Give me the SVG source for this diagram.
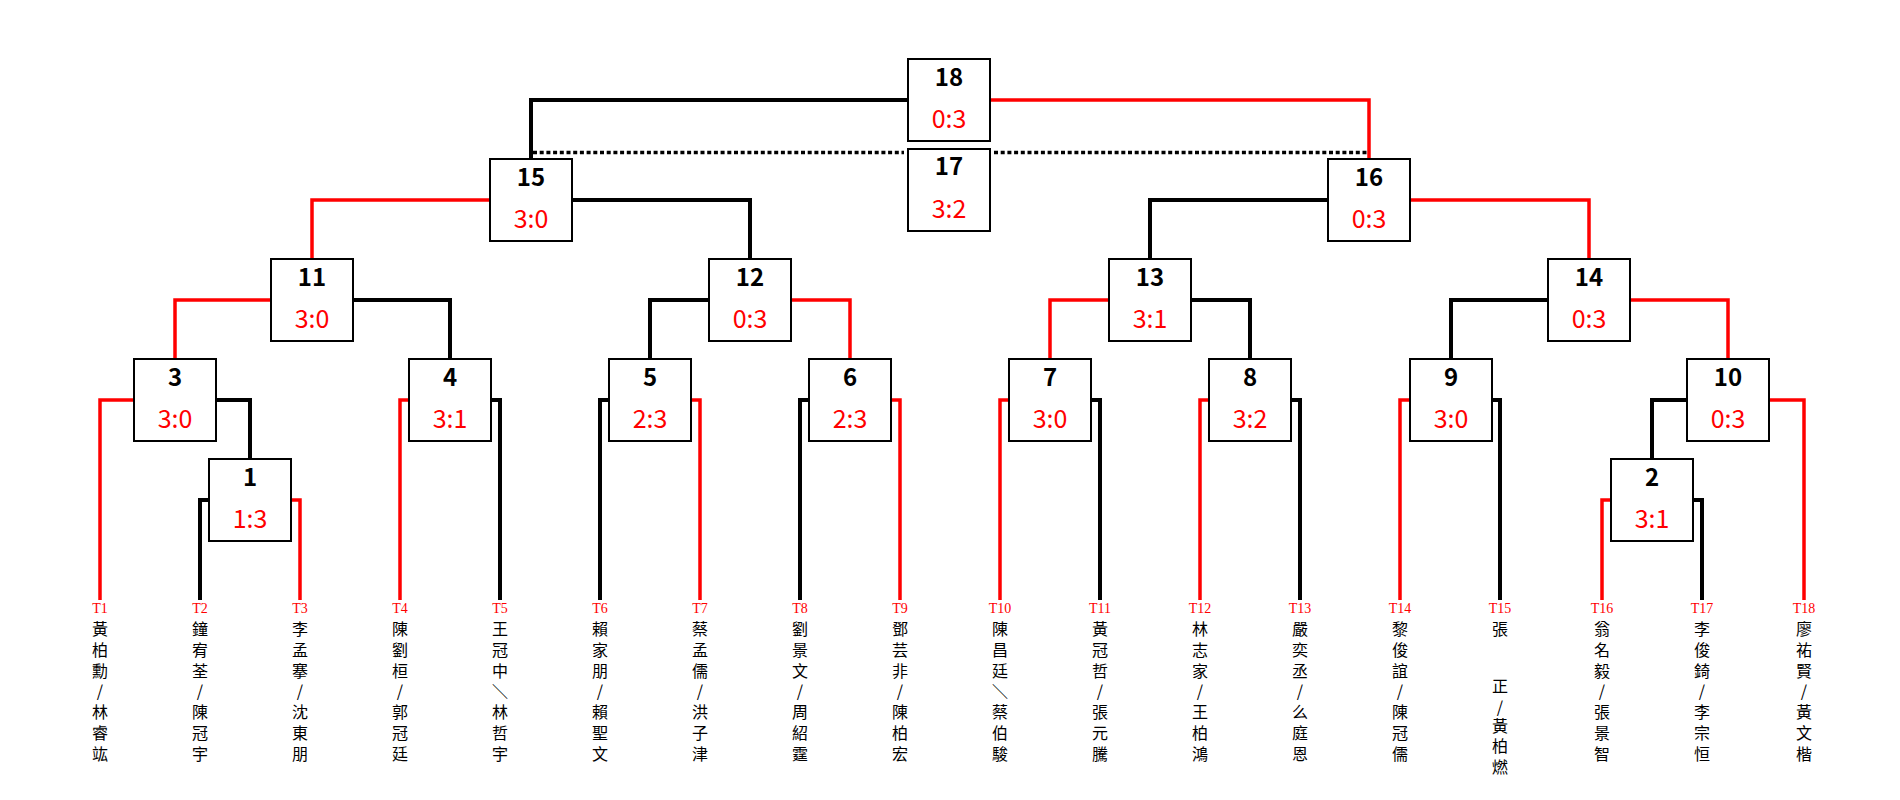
<svg xmlns="http://www.w3.org/2000/svg" width="1900" height="800" viewBox="0 0 1900 800">
<style>
.bk{fill:none;stroke:#000;stroke-width:4;stroke-linejoin:miter}
.rd{fill:none;stroke:#ff0000;stroke-width:3.5;stroke-linejoin:miter}
.dot{fill:none;stroke:#000;stroke-width:3.5;stroke-dasharray:4 2.7}
.box{fill:#fff;stroke:#000;stroke-width:2}
.num{font-family:"Noto Sans CJK TC","Noto Sans",sans-serif;font-size:24px;font-weight:bold;fill:#000;text-anchor:middle}
.sc{font-family:"Noto Sans CJK TC","Noto Sans",sans-serif;font-size:25px;fill:#ff0000;text-anchor:middle}
.tl{font-family:"Liberation Serif",serif;font-size:14px;fill:#ff0000;text-anchor:middle}
.nm{font-family:"Noto Sans CJK TC",sans-serif;font-size:16px;fill:#000;text-anchor:middle}
</style>
<rect width="1900" height="800" fill="#fff"/>
<g id="connectors">
<path class="dot" d="M533 152.5H904M994 152.5H1367"/>
<path class="bk" d="M949 100H531V159"/>
<path class="rd" d="M949 100H1369V159"/>
<path class="rd" d="M531 200H312V259"/>
<path class="bk" d="M531 200H750V259"/>
<path class="bk" d="M1369 200H1150V259"/>
<path class="rd" d="M1369 200H1589V259"/>
<path class="rd" d="M312 300H175V359"/>
<path class="bk" d="M312 300H450V359"/>
<path class="bk" d="M750 300H650V359"/>
<path class="rd" d="M750 300H850V359"/>
<path class="rd" d="M1150 300H1050V359"/>
<path class="bk" d="M1150 300H1250V359"/>
<path class="bk" d="M1589 300H1451V359"/>
<path class="rd" d="M1589 300H1728V359"/>
<path class="rd" d="M175 400H100V600"/>
<path class="bk" d="M175 400H250V459"/>
<path class="rd" d="M450 400H400V600"/>
<path class="bk" d="M450 400H500V600"/>
<path class="bk" d="M650 400H600V600"/>
<path class="rd" d="M650 400H700V600"/>
<path class="bk" d="M850 400H800V600"/>
<path class="rd" d="M850 400H900V600"/>
<path class="rd" d="M1050 400H1000V600"/>
<path class="bk" d="M1050 400H1100V600"/>
<path class="rd" d="M1250 400H1200V600"/>
<path class="bk" d="M1250 400H1300V600"/>
<path class="rd" d="M1451 400H1400V600"/>
<path class="bk" d="M1451 400H1500V600"/>
<path class="bk" d="M1728 400H1652V459"/>
<path class="rd" d="M1728 400H1804V600"/>
<path class="bk" d="M250 500H200V600"/>
<path class="rd" d="M250 500H300V600"/>
<path class="rd" d="M1652 500H1602V600"/>
<path class="bk" d="M1652 500H1702V600"/>
</g>
<g id="m18"><rect class="box" x="908" y="59" width="82" height="82"/><text class="num" x="949" y="86">18</text><text class="sc" x="949" y="128">0:3</text></g>
<g id="m17"><rect class="box" x="908" y="149" width="82" height="82"/><text class="num" x="949" y="175">17</text><text class="sc" x="949" y="218">3:2</text></g>
<g id="m15"><rect class="box" x="490" y="159" width="82" height="82"/><text class="num" x="531" y="186">15</text><text class="sc" x="531" y="228">3:0</text></g>
<g id="m16"><rect class="box" x="1328" y="159" width="82" height="82"/><text class="num" x="1369" y="186">16</text><text class="sc" x="1369" y="228">0:3</text></g>
<g id="m11"><rect class="box" x="271" y="259" width="82" height="82"/><text class="num" x="312" y="286">11</text><text class="sc" x="312" y="328">3:0</text></g>
<g id="m12"><rect class="box" x="709" y="259" width="82" height="82"/><text class="num" x="750" y="286">12</text><text class="sc" x="750" y="328">0:3</text></g>
<g id="m13"><rect class="box" x="1109" y="259" width="82" height="82"/><text class="num" x="1150" y="286">13</text><text class="sc" x="1150" y="328">3:1</text></g>
<g id="m14"><rect class="box" x="1548" y="259" width="82" height="82"/><text class="num" x="1589" y="286">14</text><text class="sc" x="1589" y="328">0:3</text></g>
<g id="m3"><rect class="box" x="134" y="359" width="82" height="82"/><text class="num" x="175" y="386">3</text><text class="sc" x="175" y="428">3:0</text></g>
<g id="m4"><rect class="box" x="409" y="359" width="82" height="82"/><text class="num" x="450" y="386">4</text><text class="sc" x="450" y="428">3:1</text></g>
<g id="m5"><rect class="box" x="609" y="359" width="82" height="82"/><text class="num" x="650" y="386">5</text><text class="sc" x="650" y="428">2:3</text></g>
<g id="m6"><rect class="box" x="809" y="359" width="82" height="82"/><text class="num" x="850" y="386">6</text><text class="sc" x="850" y="428">2:3</text></g>
<g id="m7"><rect class="box" x="1009" y="359" width="82" height="82"/><text class="num" x="1050" y="386">7</text><text class="sc" x="1050" y="428">3:0</text></g>
<g id="m8"><rect class="box" x="1209" y="359" width="82" height="82"/><text class="num" x="1250" y="386">8</text><text class="sc" x="1250" y="428">3:2</text></g>
<g id="m9"><rect class="box" x="1410" y="359" width="82" height="82"/><text class="num" x="1451" y="386">9</text><text class="sc" x="1451" y="428">3:0</text></g>
<g id="m10"><rect class="box" x="1687" y="359" width="82" height="82"/><text class="num" x="1728" y="386">10</text><text class="sc" x="1728" y="428">0:3</text></g>
<g id="m1"><rect class="box" x="209" y="459" width="82" height="82"/><text class="num" x="250" y="486">1</text><text class="sc" x="250" y="528">1:3</text></g>
<g id="m2"><rect class="box" x="1611" y="459" width="82" height="82"/><text class="num" x="1652" y="486">2</text><text class="sc" x="1652" y="528">3:1</text></g>
<g id="t1"><text class="tl" x="100" y="613">T1</text><text class="nm" x="100"><tspan x="100" y="635">黃</tspan><tspan x="100" y="655.75">柏</tspan><tspan x="100" y="676.5">勳</tspan><tspan x="100" y="697.25">/</tspan><tspan x="100" y="718">林</tspan><tspan x="100" y="738.75">睿</tspan><tspan x="100" y="759.5">竑</tspan></text></g>
<g id="t2"><text class="tl" x="200" y="613">T2</text><text class="nm" x="200"><tspan x="200" y="635">鐘</tspan><tspan x="200" y="655.75">宥</tspan><tspan x="200" y="676.5">荃</tspan><tspan x="200" y="697.25">/</tspan><tspan x="200" y="718">陳</tspan><tspan x="200" y="738.75">冠</tspan><tspan x="200" y="759.5">宇</tspan></text></g>
<g id="t3"><text class="tl" x="300" y="613">T3</text><text class="nm" x="300"><tspan x="300" y="635">李</tspan><tspan x="300" y="655.75">孟</tspan><tspan x="300" y="676.5">搴</tspan><tspan x="300" y="697.25">/</tspan><tspan x="300" y="718">沈</tspan><tspan x="300" y="738.75">東</tspan><tspan x="300" y="759.5">朋</tspan></text></g>
<g id="t4"><text class="tl" x="400" y="613">T4</text><text class="nm" x="400"><tspan x="400" y="635">陳</tspan><tspan x="400" y="655.75">劉</tspan><tspan x="400" y="676.5">桓</tspan><tspan x="400" y="697.25">/</tspan><tspan x="400" y="718">郭</tspan><tspan x="400" y="738.75">冠</tspan><tspan x="400" y="759.5">廷</tspan></text></g>
<g id="t5"><text class="tl" x="500" y="613">T5</text><text class="nm" x="500"><tspan x="500" y="635">王</tspan><tspan x="500" y="655.75">冠</tspan><tspan x="500" y="676.5">中</tspan><tspan x="500" y="697.25">＼</tspan><tspan x="500" y="718">林</tspan><tspan x="500" y="738.75">哲</tspan><tspan x="500" y="759.5">宇</tspan></text></g>
<g id="t6"><text class="tl" x="600" y="613">T6</text><text class="nm" x="600"><tspan x="600" y="635">賴</tspan><tspan x="600" y="655.75">家</tspan><tspan x="600" y="676.5">朋</tspan><tspan x="600" y="697.25">/</tspan><tspan x="600" y="718">賴</tspan><tspan x="600" y="738.75">聖</tspan><tspan x="600" y="759.5">文</tspan></text></g>
<g id="t7"><text class="tl" x="700" y="613">T7</text><text class="nm" x="700"><tspan x="700" y="635">蔡</tspan><tspan x="700" y="655.75">孟</tspan><tspan x="700" y="676.5">儒</tspan><tspan x="700" y="697.25">/</tspan><tspan x="700" y="718">洪</tspan><tspan x="700" y="738.75">子</tspan><tspan x="700" y="759.5">津</tspan></text></g>
<g id="t8"><text class="tl" x="800" y="613">T8</text><text class="nm" x="800"><tspan x="800" y="635">劉</tspan><tspan x="800" y="655.75">景</tspan><tspan x="800" y="676.5">文</tspan><tspan x="800" y="697.25">/</tspan><tspan x="800" y="718">周</tspan><tspan x="800" y="738.75">紹</tspan><tspan x="800" y="759.5">霆</tspan></text></g>
<g id="t9"><text class="tl" x="900" y="613">T9</text><text class="nm" x="900"><tspan x="900" y="635">鄧</tspan><tspan x="900" y="655.75">芸</tspan><tspan x="900" y="676.5">非</tspan><tspan x="900" y="697.25">/</tspan><tspan x="900" y="718">陳</tspan><tspan x="900" y="738.75">柏</tspan><tspan x="900" y="759.5">宏</tspan></text></g>
<g id="t10"><text class="tl" x="1000" y="613">T10</text><text class="nm" x="1000"><tspan x="1000" y="635">陳</tspan><tspan x="1000" y="655.75">昌</tspan><tspan x="1000" y="676.5">廷</tspan><tspan x="1000" y="697.25">＼</tspan><tspan x="1000" y="718">蔡</tspan><tspan x="1000" y="738.75">伯</tspan><tspan x="1000" y="759.5">駿</tspan></text></g>
<g id="t11"><text class="tl" x="1100" y="613">T11</text><text class="nm" x="1100"><tspan x="1100" y="635">黃</tspan><tspan x="1100" y="655.75">冠</tspan><tspan x="1100" y="676.5">哲</tspan><tspan x="1100" y="697.25">/</tspan><tspan x="1100" y="718">張</tspan><tspan x="1100" y="738.75">元</tspan><tspan x="1100" y="759.5">騰</tspan></text></g>
<g id="t12"><text class="tl" x="1200" y="613">T12</text><text class="nm" x="1200"><tspan x="1200" y="635">林</tspan><tspan x="1200" y="655.75">志</tspan><tspan x="1200" y="676.5">家</tspan><tspan x="1200" y="697.25">/</tspan><tspan x="1200" y="718">王</tspan><tspan x="1200" y="738.75">柏</tspan><tspan x="1200" y="759.5">鴻</tspan></text></g>
<g id="t13"><text class="tl" x="1300" y="613">T13</text><text class="nm" x="1300"><tspan x="1300" y="635">嚴</tspan><tspan x="1300" y="655.75">奕</tspan><tspan x="1300" y="676.5">丞</tspan><tspan x="1300" y="697.25">/</tspan><tspan x="1300" y="718">么</tspan><tspan x="1300" y="738.75">庭</tspan><tspan x="1300" y="759.5">恩</tspan></text></g>
<g id="t14"><text class="tl" x="1400" y="613">T14</text><text class="nm" x="1400"><tspan x="1400" y="635">黎</tspan><tspan x="1400" y="655.75">俊</tspan><tspan x="1400" y="676.5">誼</tspan><tspan x="1400" y="697.25">/</tspan><tspan x="1400" y="718">陳</tspan><tspan x="1400" y="738.75">冠</tspan><tspan x="1400" y="759.5">儒</tspan></text></g>
<g id="t15"><text class="tl" x="1500" y="613">T15</text><text class="nm" x="1500"><tspan x="1500" y="635">張</tspan><tspan x="1500" y="692">正</tspan><tspan x="1500" y="712.5">/</tspan><tspan x="1500" y="731.5">黃</tspan><tspan x="1500" y="752">柏</tspan><tspan x="1500" y="772.5">燃</tspan></text></g>
<g id="t16"><text class="tl" x="1602" y="613">T16</text><text class="nm" x="1602"><tspan x="1602" y="635">翁</tspan><tspan x="1602" y="655.75">名</tspan><tspan x="1602" y="676.5">毅</tspan><tspan x="1602" y="697.25">/</tspan><tspan x="1602" y="718">張</tspan><tspan x="1602" y="738.75">景</tspan><tspan x="1602" y="759.5">智</tspan></text></g>
<g id="t17"><text class="tl" x="1702" y="613">T17</text><text class="nm" x="1702"><tspan x="1702" y="635">李</tspan><tspan x="1702" y="655.75">俊</tspan><tspan x="1702" y="676.5">錡</tspan><tspan x="1702" y="697.25">/</tspan><tspan x="1702" y="718">李</tspan><tspan x="1702" y="738.75">宗</tspan><tspan x="1702" y="759.5">恒</tspan></text></g>
<g id="t18"><text class="tl" x="1804" y="613">T18</text><text class="nm" x="1804"><tspan x="1804" y="635">廖</tspan><tspan x="1804" y="655.75">祐</tspan><tspan x="1804" y="676.5">賢</tspan><tspan x="1804" y="697.25">/</tspan><tspan x="1804" y="718">黃</tspan><tspan x="1804" y="738.75">文</tspan><tspan x="1804" y="759.5">楷</tspan></text></g>
</svg>
